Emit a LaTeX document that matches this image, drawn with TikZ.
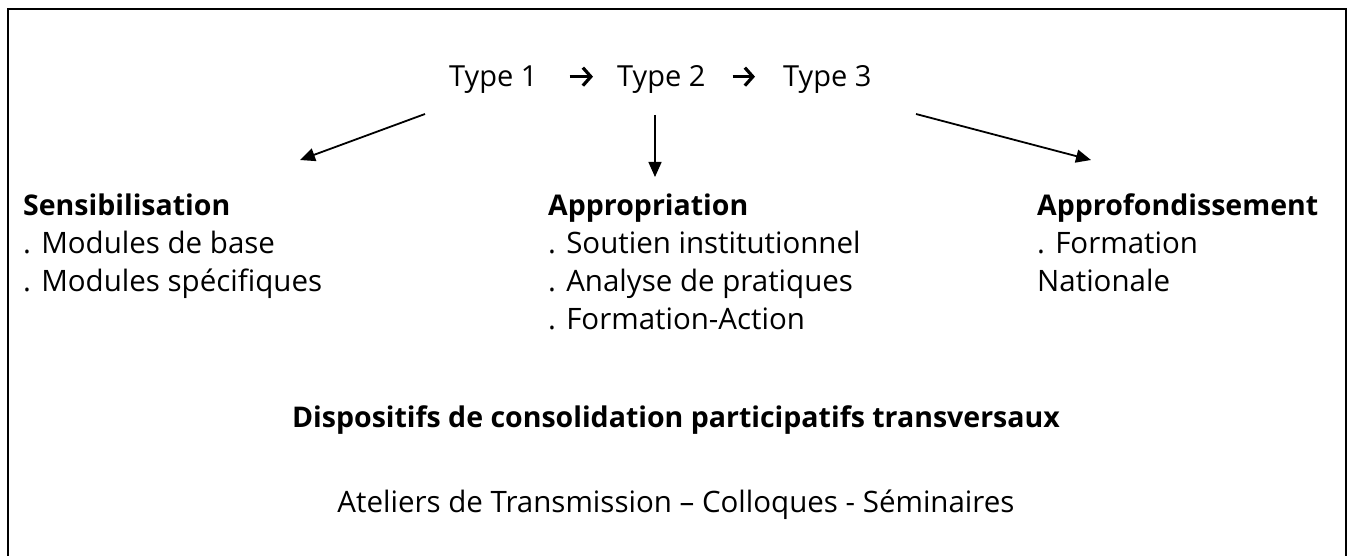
\documentclass[tikz,border=0pt]{standalone}
\usepackage{fontspec}
\setmainfont{Open Sans}
\usetikzlibrary{arrows.meta}
\begin{document}
\begin{tikzpicture}[x=1pt,y=-1pt,
  txt/.style={inner sep=0pt, anchor=base west, font=\fontsize{29.5}{35}\selectfont},
  hd/.style={txt, font=\fontsize{28.5}{35}\selectfont\bfseries},
  ctr/.style={inner sep=0pt, anchor=base, font=\fontsize{29.5}{35}\selectfont},
  typ/.style={txt, font=\fontsize{29}{35}\selectfont, text height=20.7pt, text depth=0pt},
  typarr/.style={line width=3.2pt, -{Straight Barb[length=8pt,width=18pt]}},
  darr/.style={line width=1.8pt, -{Triangle[length=15pt,width=13pt]}},
  frame/.style={line width=2.5pt}
]
\useasboundingbox (0,0) rectangle (1349,556);
\draw[frame] (8,560) -- (8,9.2) -- (1346,9.2) -- (1346,560);

% type line
\node[typ] (t1) at (449,87) {Type 1};
\node[typ] (t2) at (617,87) {Type 2};
\node[typ] (t3) at (783,87) {Type 3};
\draw[typarr, shorten <=32pt, shorten >=24pt] (t1.east) -- (t2.west);
\draw[typarr, shorten <=27pt, shorten >=28pt] (t2.east) -- (t3.west);

% connectors
\coordinate (a1s) at (425,114); \coordinate (a1e) at (300,160);
\coordinate (a2s) at (655,115); \coordinate (a2e) at (655,177);
\coordinate (a3s) at (916,114); \coordinate (a3e) at (1091,160);
\draw[darr] (a1s) -- (a1e);
\draw[darr, line width=1.5pt] (a2s) -- (a2e);
\draw[darr] (a3s) -- (a3e);

% left column
\node[hd] (s0) at (23,215) {Sensibilisation};
\node[txt] (s1) at (23,253) {. Modules de base};
\node[txt] (s2) at (23,291) {. Modules spécifiques};

% middle column
\node[hd] (m0) at (548,215) {Appropriation};
\node[txt] (m1) at (548,253) {. Soutien institutionnel};
\node[txt] (m2) at (548,291) {. Analyse de pratiques};
\node[txt] (m3) at (548,329) {. Formation-Action};

% right column
\node[hd] (r0) at (1037,215) {Approfondissement};
\node[txt] (r1) at (1037,253) {. Formation};
\node[txt] (r2) at (1037,291) {Nationale};

% bottom
\node[ctr, font=\fontsize{28.5}{35}\selectfont\bfseries] (d0) at (676,427) {Dispositifs de consolidation participatifs transversaux};
\node[ctr] (d1) at (676,512) {Ateliers de Transmission – Colloques - Séminaires};
\end{tikzpicture}
\end{document}
